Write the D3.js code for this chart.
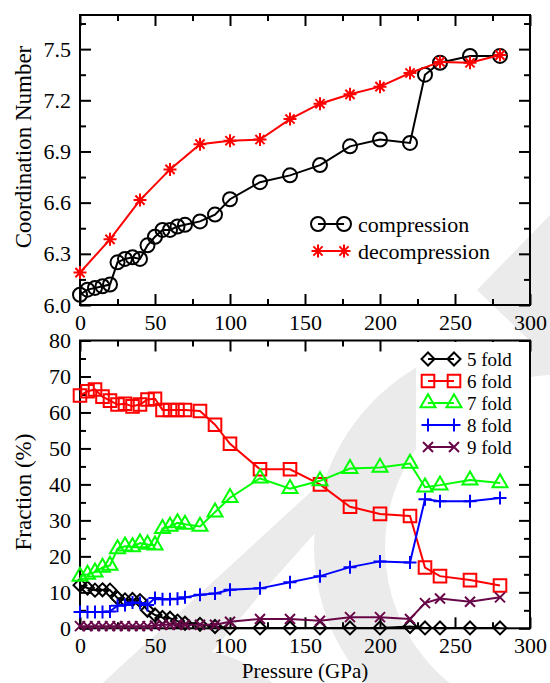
<!DOCTYPE html>
<html>
<head>
<meta charset="utf-8">
<script src="https://cdn.jsdelivr.net/npm/d3@7"></script>
<style>
  body { margin: 0; background: #fff; }
  svg { display: block; }
  text { font-family: "Liberation Serif", "DejaVu Serif", "Times New Roman", serif; }
</style>
</head>
<body>
<script>
// DATA
var pressure = [0, 5, 10, 15, 20, 25, 30, 35, 40, 45, 50, 55, 60, 65, 70, 80, 90, 100, 120, 140, 160, 180, 200, 220, 230, 240, 260, 280];
var decompPressure = [0, 20, 40, 60, 80, 100, 120, 140, 160, 180, 200, 220, 240, 260, 280];

var compression = [6.06, 6.09, 6.10, 6.11, 6.12, 6.25, 6.27, 6.28, 6.27, 6.35, 6.40, 6.44, 6.44, 6.46, 6.47, 6.49, 6.53, 6.62, 6.72, 6.76, 6.82, 6.93, 6.97, 6.95, 7.35, 7.42, 7.46, 7.46];
var decompression = [6.19, 6.385, 6.615, 6.795, 6.943, 6.963, 6.97, 7.09, 7.18, 7.235, 7.28, 7.36, 7.425, 7.42, 7.465];

var fold5 = [12.0, 11.2, 10.6, 10.7, 10.6, 8.4, 7.9, 8.0, 7.7, 5.0, 3.7, 3.0, 2.8, 2.0, 1.4, 1.1, 0.5, 0.1, 0.1, 0.1, 0.1, 0.1, 0.1, 0.5, 0.1, 0.1, 0.1, 0.1];
var fold6 = [64.7, 65.9, 66.4, 64.4, 63.3, 62.2, 62.4, 61.7, 62.2, 63.6, 63.8, 60.7, 60.7, 60.7, 60.7, 60.4, 56.6, 51.3, 44.2, 44.2, 40.0, 33.8, 31.8, 31.2, 16.9, 14.5, 13.4, 11.9];
var fold7 = [14.4, 15.0, 15.6, 16.9, 17.5, 22.1, 22.8, 22.6, 23.7, 23.3, 23.1, 27.7, 28.3, 29.3, 28.9, 28.3, 32.3, 36.3, 41.7, 38.8, 41.0, 44.4, 44.7, 45.8, 39.2, 39.8, 41.2, 40.4];
var fold8 = [4.5, 4.5, 4.5, 4.5, 4.7, 6.3, 6.5, 7.2, 7.0, 6.5, 8.4, 8.1, 8.1, 8.2, 8.6, 9.3, 9.7, 10.7, 11.1, 12.8, 14.5, 17.0, 18.6, 18.3, 35.9, 35.3, 35.3, 36.2];
var fold9 = [0.6, 0.6, 0.6, 0.6, 0.6, 0.6, 0.6, 0.6, 0.6, 0.6, 0.8, 1.0, 1.0, 1.0, 1.0, 1.0, 1.0, 1.8, 2.6, 2.6, 2.1, 3.1, 3.1, 2.6, 7.0, 8.3, 7.4, 8.6];

var xTicks = [0, 50, 100, 150, 200, 250, 300];
var xMinor = [25, 75, 125, 175, 225, 275];
var cnTicks = [6.0, 6.3, 6.6, 6.9, 7.2, 7.5];
var cnMinor = [6.15, 6.45, 6.75, 7.05, 7.35, 7.65];
var fracTicks = [0, 10, 20, 30, 40, 50, 60, 70, 80];
var fracMinor = [5, 15, 25, 35, 45, 55, 65, 75];

var topLegend = ['compression', 'decompression'];
var bottomLegend = ['5 fold', '6 fold', '7 fold', '8 fold', '9 fold'];

//SETUP
var width = 550, height = 683;
var svg = d3.select('body').append('svg')
	.attr('width', width)
	.attr('height', height);

// faint watermark behind the plot
var wm = svg.append('g').attr('fill', '#ebebeb').attr('stroke', 'none');
var crescent = d3.path();
crescent.moveTo(521 + 207, 546); crescent.arc(521, 546, 207, 0, 2 * Math.PI);
crescent.moveTo(558 + 173, 548); crescent.arc(558, 548, 173, 0, 2 * Math.PI);
wm.append('path').attr('d', crescent.toString()).attr('fill-rule', 'evenodd');
wm.append('path').attr('d', 'M95,690 L315,488 L340,505 L258,597 L180,690 Z');
wm.append('circle').attr('cx', 190).attr('cy', 770).attr('r', 120);
wm.append('path').attr('d', 'M477,290 L552,213 L552,362 Z');

// custom symbols, size = half width
var sym = {
	circle: { draw: function (c, s) { c.moveTo(s, 0); c.arc(0, 0, s, 0, 2 * Math.PI); } },
	star: { draw: function (c, s) {
		var d = s * Math.SQRT1_2;
		c.moveTo(-s, 0); c.lineTo(s, 0);
		c.moveTo(0, -s); c.lineTo(0, s);
		c.moveTo(-d, -d); c.lineTo(d, d);
		c.moveTo(-d, d); c.lineTo(d, -d);
	} },
	diamond: { draw: function (c, s) { c.moveTo(0, -s); c.lineTo(s, 0); c.lineTo(0, s); c.lineTo(-s, 0); c.closePath(); } },
	square: { draw: function (c, s) { c.moveTo(-s, -s); c.lineTo(s, -s); c.lineTo(s, s); c.lineTo(-s, s); c.closePath(); } },
	triangle: { draw: function (c, s) {
		var h = s * Math.sqrt(3);
		c.moveTo(0, -h * 2 / 3); c.lineTo(s, h / 3); c.lineTo(-s, h / 3); c.closePath();
	} },
	plus: { draw: function (c, s) { c.moveTo(-s, 0); c.lineTo(s, 0); c.moveTo(0, -s); c.lineTo(0, s); } },
	cross: { draw: function (c, s) { c.moveTo(-s, -s); c.lineTo(s, s); c.moveTo(-s, s); c.lineTo(s, -s); } }
};

var x = d3.scaleLinear().domain([0, 300]).range([80, 530]);

function panel(top, bottom, domain, ticks, minor, fmt) {
	var y = d3.scaleLinear().domain(domain).range([bottom, top]);
	var g = svg.append('g');

	g.append('g').attr('transform', 'translate(0,' + bottom + ')')
		.call(d3.axisBottom(x).tickValues(xTicks).tickSize(-11).tickPadding(9).tickSizeOuter(0));
	g.append('g').attr('transform', 'translate(0,' + bottom + ')')
		.call(d3.axisBottom(x).tickValues(xMinor).tickSize(-6).tickFormat('').tickSizeOuter(0));
	g.append('g').attr('transform', 'translate(0,' + top + ')')
		.call(d3.axisTop(x).tickValues(xTicks).tickSize(-11).tickFormat('').tickSizeOuter(0));
	g.append('g').attr('transform', 'translate(0,' + top + ')')
		.call(d3.axisTop(x).tickValues(xMinor).tickSize(-6).tickFormat('').tickSizeOuter(0));

	g.append('g').attr('transform', 'translate(80,0)')
		.call(d3.axisLeft(y).tickValues(ticks).tickSize(-11).tickPadding(9).tickFormat(fmt).tickSizeOuter(0));
	g.append('g').attr('transform', 'translate(80,0)')
		.call(d3.axisLeft(y).tickValues(minor).tickSize(-6).tickFormat('').tickSizeOuter(0));
	g.append('g').attr('transform', 'translate(530,0)')
		.call(d3.axisRight(y).tickValues(ticks).tickSize(-11).tickFormat('').tickSizeOuter(0));
	g.append('g').attr('transform', 'translate(530,0)')
		.call(d3.axisRight(y).tickValues(minor).tickSize(-6).tickFormat('').tickSizeOuter(0));

	g.selectAll('.domain').remove();
	g.selectAll('g').attr('font-family', null).attr('font-size', null);
	g.selectAll('.tick line').attr('stroke', '#000').attr('stroke-width', 2);
	g.selectAll('.tick text').attr('fill', '#000').style('font-size', '22px');

	g.append('rect')
		.attr('x', 80).attr('y', top)
		.attr('width', 450).attr('height', bottom - top)
		.attr('fill', 'none').attr('stroke', '#000').attr('stroke-width', 2);
	return { y: y, g: g };
}

var p1 = panel(15, 305, [6.0, 7.7], cnTicks, cnMinor, d3.format('.1f'));
var p2 = panel(340.5, 628.3, [0, 80], fracTicks, fracMinor, d3.format('d'));

function series(p, xs, ys, color, shape, r, lw) {
	var pts = xs.map(function (d, i) { return [x(d), p.y(ys[i])]; });
	p.g.append('path')
		.attr('d', d3.line()(pts))
		.attr('fill', 'none').attr('stroke', color).attr('stroke-width', lw);
	p.g.selectAll(null).data(pts).enter().append('path')
		.attr('transform', function (d) { return 'translate(' + d[0] + ',' + d[1] + ')'; })
		.attr('d', d3.symbol().type(sym[shape]).size(r)())
		.attr('fill', 'none').attr('stroke', color).attr('stroke-width', lw);
}

function legendRow(yPos, x1, x2, tx, label, color, shape, r, lw, fs) {
	var lg = svg.append('g');
	lg.append('line').attr('x1', x1).attr('x2', x2).attr('y1', yPos).attr('y2', yPos)
		.attr('stroke', color).attr('stroke-width', lw);
	[x1, x2].forEach(function (px) {
		lg.append('path')
			.attr('transform', 'translate(' + px + ',' + yPos + ')')
			.attr('d', d3.symbol().type(sym[shape]).size(r)())
			.attr('fill', 'none').attr('stroke', color).attr('stroke-width', lw);
	});
	lg.append('text').attr('x', tx).attr('y', yPos).attr('dy', '0.35em')
		.style('font-size', fs + 'px').attr('fill', '#000').text(label);
}

// TOP PANEL
series(p1, pressure, compression, '#000', 'circle', 7, 2);
series(p1, decompPressure, decompression, '#ff0000', 'star', 6.5, 2);
legendRow(224, 318, 344, 358, topLegend[0], '#000', 'circle', 7, 2, 22);
legendRow(251, 318, 344, 358, topLegend[1], '#ff0000', 'star', 6.5, 2, 22);

// BOTTOM PANEL
var folds = [
	{ v: fold5, c: '#000', s: 'diamond', r: 6.5 },
	{ v: fold6, c: '#ff0000', s: 'square', r: 6.3 },
	{ v: fold7, c: '#00ff00', s: 'triangle', r: 7.5 },
	{ v: fold8, c: '#0000ff', s: 'plus', r: 6.5 },
	{ v: fold9, c: '#670748', s: 'cross', r: 5 }
];
// opaque legend box (hides the watermark)
svg.append('rect').attr('x', 416).attr('y', 342).attr('width', 113).attr('height', 116).attr('fill', '#fff');
folds.forEach(function (f) {
	series(p2, pressure, f.v, f.c, f.s, f.r, 2);
});
folds.forEach(function (f, i) {
	legendRow(359 + i * 22, 428, 454, 467, bottomLegend[i], f.c, f.s, f.r, 2, 19);
});

//LABELS
svg.append('text')
	.attr('transform', 'translate(31,147) rotate(-90)')
	.attr('text-anchor', 'middle').style('font-size', '23px')
	.text('Coordination Number');
svg.append('text')
	.attr('transform', 'translate(31,492) rotate(-90)')
	.attr('text-anchor', 'middle').style('font-size', '23px')
	.text('Fraction (%)');
svg.append('text')
	.attr('x', 305).attr('y', 678)
	.attr('text-anchor', 'middle').style('font-size', '21px')
	.text('Pressure (GPa)');
</script>
</body>
</html>
